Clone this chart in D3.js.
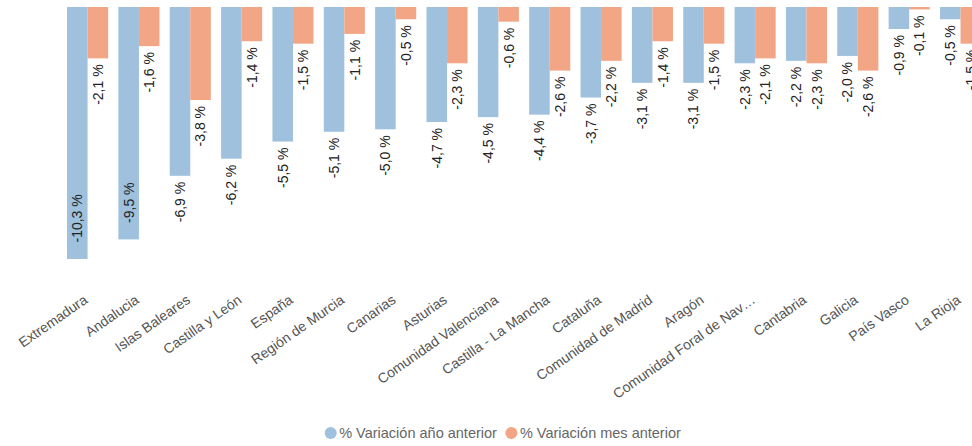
<!DOCTYPE html>
<html><head><meta charset="utf-8">
<script src="https://cdn.jsdelivr.net/npm/d3@7"></script>
<style>
html,body{margin:0;padding:0;background:#fff;overflow:hidden;}
svg{display:block;}
</style></head>
<body>
<script>
const categories = ["Extremadura","Andalucia","Islas Baleares","Castilla y León","España","Región de Murcia","Canarias","Asturias","Comunidad Valenciana","Castilla - La Mancha","Cataluña","Comunidad de Madrid","Aragón","Comunidad Foral de Nav…","Cantabria","Galicia","País Vasco","La Rioja"];
const seriesNames = ["% Variación año anterior","% Variación mes anterior"];
const varAnual = [-10.3,-9.5,-6.9,-6.2,-5.5,-5.1,-5.0,-4.7,-4.5,-4.4,-3.7,-3.1,-3.1,-2.3,-2.2,-2.0,-0.9,-0.5];
const varMensual = [-2.1,-1.6,-3.8,-1.4,-1.5,-1.1,-0.5,-2.3,-0.6,-2.6,-2.2,-1.4,-1.5,-2.1,-2.3,-2.6,-0.1,-1.5];
const colors = ["#9fc1dd","#f2a685"];

const W = 972, H = 446;
const svg = d3.select("body").append("svg").attr("width", W).attr("height", H);

const x = d3.scaleBand().domain(categories).range([61.9, 986.2]).paddingInner(0.2).paddingOuter(0.1);
const xs = d3.scaleBand().domain(seriesNames).range([0, x.bandwidth()]);
const y = d3.scaleLinear().domain([-10.3, 0]).range([259, 7]);
const plotBottom = y(-10.3);

const rows = categories.map((c,i)=>({cat:c, vals:[varAnual[i], varMensual[i]]}));
const fmt = v => d3.format(".1f")(v).replace(".", ",").replace("−","-") + " %";

const g = svg.selectAll("g.grp").data(rows).join("g").attr("class","grp")
  .attr("transform", d=>`translate(${x(d.cat)},0)`);

g.selectAll("rect").data(d=>d.vals.map((v,k)=>({v,k}))).join("rect")
  .attr("x", d=>xs(seriesNames[d.k]))
  .attr("width", xs.bandwidth())
  .attr("y", y(0))
  .attr("height", d=>y(d.v)-y(0))
  .attr("fill", d=>colors[d.k]);

const fs = 14;
g.selectAll("text.val").data(d=>d.vals.map((v,k)=>({v,k}))).join("text").attr("class","val")
  .attr("font-family","Liberation Sans, Arial, sans-serif")
  .attr("font-size", fs)
  .attr("fill","#222")
  .text(d=>fmt(d.v))
  .each(function(d){
    const t = d3.select(this);
    const len = this.getComputedTextLength();
    const cx = xs(seriesNames[d.k]) + xs.bandwidth()/2;
    const end = y(d.v);
    let yy, anchor;
    if (end + 6 + len > plotBottom + 2) { yy = end - 16.5; anchor = "start"; }
    else { yy = end + 6; anchor = "end"; }
    t.attr("text-anchor", anchor).attr("dy","0.35em")
     .attr("transform", `translate(${cx},${yy}) rotate(-90)`);
  });

// category axis labels
svg.append("g").selectAll("text").data(categories).join("text")
  .attr("font-family","Liberation Sans, Arial, sans-serif")
  .attr("font-size", 14)
  .attr("fill","#555")
  .attr("text-anchor","end")
  .attr("transform", d=>`translate(${x(d)+x.bandwidth()/2+1},302) rotate(-35)`)
  .text(d=>d);

// legend
const leg = svg.append("g");
let cursor = 0;
seriesNames.forEach((s,i)=>{
  const it = leg.append("g").attr("transform",`translate(${cursor},0)`);
  it.append("circle").attr("cx",5.5).attr("cy",0).attr("r",6).attr("fill",colors[i]);
  const t = it.append("text").attr("x",14).attr("y",0).attr("dy","0.35em")
    .attr("font-family","Liberation Sans, Arial, sans-serif").attr("font-size",14.5).attr("fill","#666").text(s);
  const w = 14 + t.node().getComputedTextLength();
  cursor += w + 9;
});
const legW = cursor - 9;
leg.attr("transform",`translate(${503 - legW/2},433)`);
</script>
</body></html>
